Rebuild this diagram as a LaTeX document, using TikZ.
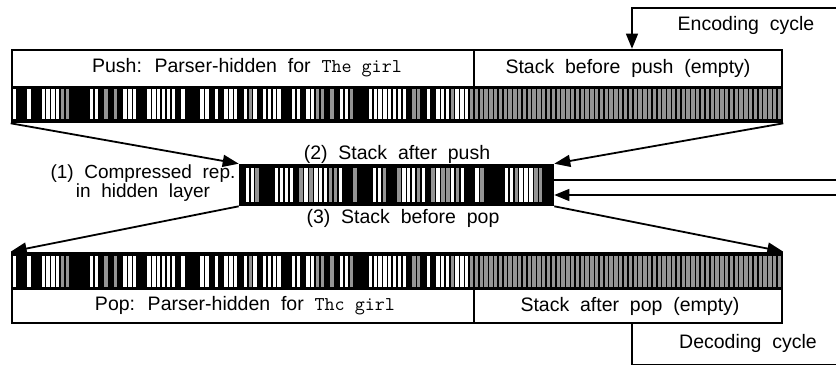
\documentclass[tikz,border=0pt]{standalone}
\usepackage{fontspec}
\setmainfont{Liberation Sans}[WordSpace=2]
\usetikzlibrary{arrows.meta}
\newcommand{\bcode}[5]{%
  \foreach \bv [count=\bi from 0] in {#5} {
    \ifcase\bv\relax
    \or \fill[white] ({#1+(\bi+0.15)*#4},#2) rectangle ({#1+(\bi+0.85)*#4},#3);
    \or \fill[stip] ({#1+(\bi+0.15)*#4},#2) rectangle ({#1+(\bi+0.85)*#4},#3);
    \fi
  }}
\newcommand{\graycode}[4]{%
  \foreach \bi in {0,...,63} {
    \fill[stip] ({#1+(\bi+0.15)*#4},#2) rectangle ({#1+(\bi+0.85)*#4},#3);
  }}
\newcommand{\mono}[1]{{\fontsize{19.5}{19}\selectfont\ttfamily #1}}
\newcommand{\tightls}{\lineskiplimit=-100pt\relax}
\def\toplist{1,0,0,1,0,0,1,1,1,1,2,2,0,0,0,0,1,1,0,2,0,2,0,1,1,1,0,0,1,1,1,1,1,1,0,1,0,0,0,1,1,0,1,0,1,1,1,0,1,2,1,0,1,1,1,1,0,0,1,1,0,1,1,2,2,0,2,0,1,1,2,0,0,0,1,1,1,1,1,1,1,1,0,2,2,0,1,0,1,1,1,2,1,1,1,2}
\def\midlist{0,1,1,2,0,0,0,1,1,1,1,0,2,1,2,1,1,1,2,2,1,0,0,2,0,0,0,1,1,2,0,0,2,1,1,1,2,1,0,2,1,2,2,1,2,1,0,0,1,2,0,0,0,0,1,1,2,1,1,1,2,2,0,0}
\begin{document}
\begin{tikzpicture}[x=1pt,y=-1pt,
  box/.style={draw, line width=2.6pt, inner sep=0pt},
  stip/.style={fill=black!42},
  arr/.style={line width=1.8pt, -{Triangle[length=16pt,width=12pt]}},
  thinline/.style={line width=1.3pt},
  thinarr/.style={line width=1.3pt, -{Triangle[length=15pt,width=12pt]}},
  lab/.style={font=\fontsize{19.5}{16}\selectfont, inner sep=0pt},
]
\useasboundingbox (0,0) rectangle (836,366);
% top box
\fill[black] (12,86) rectangle (782,122);
\expandafter\bcode\expandafter{\expandafter1\expandafter2\expandafter}\expandafter{\expandafter8\expandafter9\expandafter}\expandafter{\expandafter1\expandafter1\expandafter9\expandafter}\expandafter{\expandafter4\expandafter.\expandafter8\expandafter1\expandafter2\expandafter5\expandafter}\expandafter{\toplist}
\graycode{474}{89}{119}{4.8125}
\node[box, minimum width=770pt, minimum height=72pt] (topbox) at (397,86) {};
\draw[line width=1.5pt] (474,50) -- (474,86);
\node[lab] (pushlab) at (247,68) {Push: Parser-hidden for \mono{The girl}};
\node[lab] (stackbp) at (628,68) {Stack before push (empty)};
% middle box
\fill[black] (240,165) rectangle (553,205);
\expandafter\bcode\expandafter{\expandafter2\expandafter4\expandafter0\expandafter}\expandafter{\expandafter1\expandafter6\expandafter8\expandafter}\expandafter{\expandafter2\expandafter0\expandafter2\expandafter}\expandafter{\expandafter4\expandafter.\expandafter8\expandafter9\expandafter}\expandafter{\midlist}
\node[box, minimum width=313pt, minimum height=40pt] (midbox) at (396.5,185) {};
% bottom box
\fill[black] (12,253) rectangle (782,290);
\expandafter\bcode\expandafter{\expandafter1\expandafter2\expandafter}\expandafter{\expandafter2\expandafter5\expandafter6\expandafter}\expandafter{\expandafter2\expandafter8\expandafter7\expandafter}\expandafter{\expandafter4\expandafter.\expandafter8\expandafter1\expandafter2\expandafter5\expandafter}\expandafter{\toplist}
\graycode{474}{256}{287}{4.8125}
\node[box, minimum width=770pt, minimum height=70pt] (botbox) at (397,288) {};
\draw[line width=1.5pt] (474,290) -- (474,323);
\node[lab] (poplab) at (245,306) {Pop: Parser-hidden for \mono{Thc girl}};
\node[lab] (stackap) at (630,306) {Stack after pop (empty)};
% middle labels
\node[lab] (s2) at (397,154) {(2) Stack after push};
\node[lab] (s3) at (403,218) {(3) Stack before pop};
\node[lab, align=center, font={\fontsize{19}{18.5}\selectfont\tightls}] (s1) at (143,183) {(1) Compressed rep.\\in hidden layer};
% arrows
\draw[arr] (topbox.south west) -- (midbox.north west);
\draw[arr] (topbox.south east) -- (midbox.north east);
\draw[arr] (midbox.south west) -- (botbox.north west);
\draw[arr] (midbox.south east) -- (botbox.north east);
\coordinate (encout) at (836,180);
\coordinate (encin) at (836,195);
\draw[thinline] (midbox.east |- encout) -- (encout);
\draw[thinarr] (encin) -- (midbox.east |- encin);
% cycles
\coordinate (encstart) at (836,8);
\coordinate (cyx) at (632,0);
\draw[thinarr, line cap=rect] (encstart) -| (topbox.north -| cyx);
\node[lab] (enclab) at (746,25) {Encoding cycle};
\coordinate (decend) at (836,364.5);
\draw[thinline] (botbox.south -| cyx) |- (decend);
\node[lab] (declab) at (748,343) {Decoding cycle};
\end{tikzpicture}
\end{document}
